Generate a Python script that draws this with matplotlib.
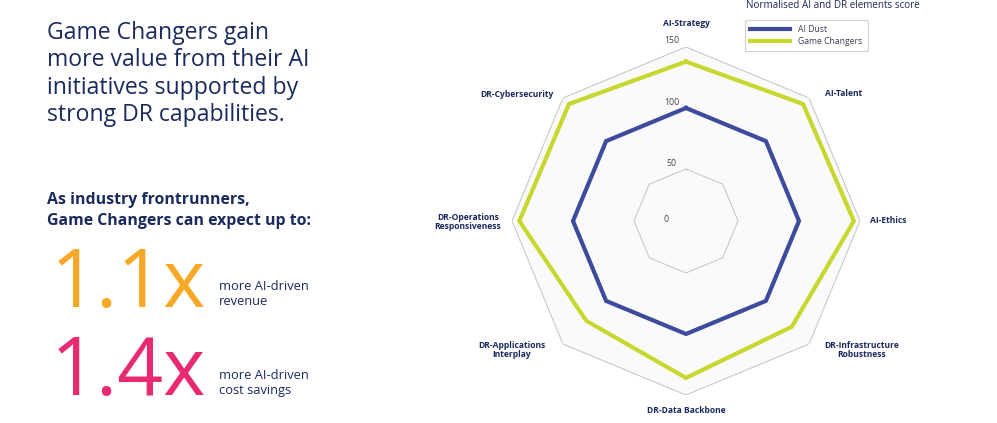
import numpy as np
import matplotlib
matplotlib.use("Agg")
import matplotlib.pyplot as plt
from matplotlib.lines import Line2D

# ---------------- data ----------------
categories = ["AI-Strategy", "AI-Talent", "AI-Ethics", "DR-Infrastructure\nRobustness",
              "DR-Data Backbone", "DR-Applications\nInterplay", "DR-Operations\nResponsiveness",
              "DR-Cybersecurity"]
ai_dust = [100, 100, 100, 100, 100, 100, 100, 100]
game_changers = [138, 143, 145, 130, 136, 123, 144, 143]
series_names = ["AI Dust", "Game Changers"]
grid_levels = [50, 100, 150]
tick_labels = ["0", "50", "100", "150"]
tick_values = [0, 50, 100, 150]
r_min, r_max = 7.4, 150

title_lines = "Game Changers gain\nmore value from their AI\ninitiatives supported by\nstrong DR capabilities."
sub_lines = "As industry frontrunners,\nGame Changers can expect up to:"
stat_values = ["1.1x", "1.4x"]
stat_texts = ["more AI-driven\nrevenue", "more AI-driven\ncost savings"]
legend_title = "Normalised AI and DR elements score"

# ---------------- style ----------------
W, H = 997, 423
NAVY = "#1b2a5c"
BLUE = "#3d4a9d"
GREEN = "#c8d72f"
ORANGE = "#f7a826"
PINK = "#e72a72"
GRID = "#c4c4c4"
FONT = ["Open Sans", "DejaVu Sans"]

plt.rcParams["font.family"] = FONT

fig = plt.figure(figsize=(W / 100, H / 100), dpi=100)
fig.patch.set_facecolor("white")

def fx(x):
    return x / W

def fy(y):
    return 1 - y / H

# ---------------- radar ----------------
cx, cy, R = 686, 221, 174
ax = fig.add_axes([fx(cx - R), fy(cy + R), 2 * R / W, 2 * R / H], projection="polar")
ax.set_theta_zero_location("N")
ax.set_theta_direction(-1)
ax.set_ylim(r_min, r_max)
ax.axis("off")

n = len(categories)
theta = np.linspace(0, 2 * np.pi, n, endpoint=False)
theta_c = np.append(theta, theta[0])

# background fill & grid polygons
ax.fill(theta_c, [r_max] * (n + 1), color="#fafafa", zorder=0)
for lvl in grid_levels:
    ax.plot(theta_c, [lvl] * (n + 1), color=GRID, lw=0.7, zorder=1)

# series
ax.plot(theta_c, np.append(game_changers, game_changers[0]), color=GREEN, lw=3.0,
        zorder=3, solid_joinstyle="miter")
ax.plot(theta_c, np.append(ai_dust, ai_dust[0]), color=BLUE, lw=3.0,
        zorder=4, solid_joinstyle="miter")

# tick labels
for lbl, v in zip(tick_labels, tick_values):
    if v == 0:
        ax.annotate(lbl, xy=(0, r_min), xytext=(-20, 2), textcoords="offset pixels",
                    ha="center", va="center", fontsize=6.3, color="#444444", zorder=5)
    else:
        ax.annotate(lbl, xy=(0, v), xytext=(-14, 6), textcoords="offset pixels",
                    ha="center", va="center", fontsize=6.3, color="#444444", zorder=5)

# category labels
offsets = [(0, 23), (35, 4), (28, 1), (53, -6), (0, -15), (-51, -6), (-44, -1), (-46, 3)]
for t, lbl, off in zip(theta, categories, offsets):
    ax.annotate(lbl, xy=(t, r_max), xytext=off, textcoords="offset pixels",
                ha="center", va="center", fontsize=6.1, fontweight="bold",
                color=NAVY, linespacing=1.0, annotation_clip=False)

# legend
fig.text(fx(746), fy(5), legend_title, ha="left", va="center", fontsize=7.1, color=NAVY)
handles = [Line2D([0], [0], color=BLUE, lw=3.0), Line2D([0], [0], color=GREEN, lw=3.0)]
leg = fig.legend(handles, series_names, loc="upper left",
                 bbox_to_anchor=(fx(745), fy(20)), bbox_transform=fig.transFigure,
                 fontsize=6.2, frameon=True, fancybox=True, handlelength=4.6,
                 handletextpad=1.0, borderpad=0.6, labelspacing=0.35, borderaxespad=0)
leg.get_frame().set_edgecolor("#c4c4c4")
leg.get_frame().set_linewidth(0.8)
for txt in leg.get_texts():
    txt.set_color("#3b3f55")

# ---------------- left text ----------------
fig.text(fx(47), fy(21), title_lines, ha="left", va="top", fontsize=16.6,
         color=NAVY, linespacing=1.19)
fig.text(fx(47), fy(192), sub_lines, ha="left", va="top", fontsize=11.4,
         color=NAVY, fontweight="bold", linespacing=1.4)

for val, txt, col, ytop, ytxt in zip(stat_values, stat_texts, [ORANGE, PINK], [245, 333], [294, 383]):
    fig.text(fx(51), fy(ytop), val, ha="left", va="top", fontsize=58,
             color=col, fontweight="normal")
    fig.text(fx(219), fy(ytxt), txt, ha="left", va="center", fontsize=9.3,
             color=NAVY, linespacing=1.25)

fig.savefig("out.png", dpi=100, facecolor="white")
